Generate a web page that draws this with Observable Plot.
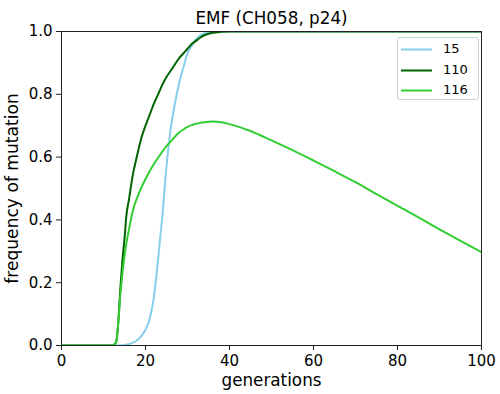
<!DOCTYPE html>
<html>
<head>
<meta charset="utf-8">
<script src="https://cdn.jsdelivr.net/npm/d3@7"></script>
<script src="https://cdn.jsdelivr.net/npm/@observablehq/plot@0.6"></script>
<style>
  html, body { margin: 0; padding: 0; background: #fff; }
  #wrap { position: relative; width: 500px; height: 394px; font-family: "DejaVu Sans", sans-serif; }
  #legend { position: absolute; left: 397px; top: 37px; width: 82px; height: 63px; box-sizing: border-box;
            border: 1px solid #d0d0d0; border-radius: 3px; background: rgba(255,255,255,0.85); }
  .item { position: absolute; left: 0; height: 16px; font-size: 13px; line-height: 16px; color: #000; }
  .item svg { position: absolute; left: 3px; top: 7px; }
  .item span { position: absolute; left: 45px; top: 0; }
</style>
</head>
<body>
<div id="wrap"><div id="legend"></div></div>
<script>
const title = "EMF (CH058, p24)";
const xLabel = "generations";
const yLabel = "frequency of mutation";
const xTicks = [0, 20, 40, 60, 80, 100];
const yTicks = [0, 0.2, 0.4, 0.6, 0.8, 1.0];

const seriesNames = ["15", "110", "116"];
const seriesColors = ["#87ceeb", "#006400", "#32cd32"];

const gens = [0, 10, 12, 12.5, 13, 13.5, 14, 14.5, 15, 15.5, 16, 17, 18, 19, 20, 21, 22, 23, 24, 25, 26, 27, 28, 29, 30, 31, 32, 33, 34, 36, 38, 40, 45, 50, 55, 60, 65, 70, 75, 80, 85, 90, 95, 100];

const freq15 = [0, 0, 0, 0, 0, 0, 0, 0.001, 0.002, 0.003, 0.004, 0.009, 0.017, 0.03, 0.05, 0.085, 0.155, 0.275, 0.41, 0.57, 0.69, 0.77, 0.835, 0.885, 0.93, 0.955, 0.975, 0.987, 0.994, 0.999, 1, 1, 1, 1, 1, 1, 1, 1, 1, 1, 1, 1, 1, 1];

const freq110 = [0, 0, 0, 0.003, 0.01, 0.07, 0.18, 0.27, 0.34, 0.42, 0.46, 0.545, 0.605, 0.66, 0.70, 0.735, 0.77, 0.80, 0.83, 0.855, 0.875, 0.895, 0.915, 0.93, 0.945, 0.96, 0.97, 0.98, 0.988, 0.996, 0.999, 1, 1, 1, 1, 1, 1, 1, 1, 1, 1, 1, 1, 1];

const freq116 = [0, 0, 0, 0.003, 0.01, 0.07, 0.16, 0.23, 0.285, 0.33, 0.365, 0.43, 0.47, 0.503, 0.53, 0.555, 0.578, 0.598, 0.617, 0.635, 0.65, 0.665, 0.678, 0.688, 0.696, 0.702, 0.706, 0.709, 0.711, 0.713, 0.711, 0.705, 0.683, 0.653, 0.622, 0.589, 0.555, 0.52, 0.482, 0.445, 0.408, 0.37, 0.333, 0.297];

const seriesValues = [freq15, freq110, freq116];
const data = seriesNames.flatMap((s, i) => gens.map((g, j) => ({g, f: seriesValues[i][j], s})));

const font = "DejaVu Sans";
const chart = Plot.plot({
  width: 500,
  height: 394,
  marginLeft: 61,
  marginRight: 19,
  marginTop: 31,
  marginBottom: 49,
  style: {fontFamily: font, background: "#fff", color: "#000"},
  x: {domain: [0, 100]},
  y: {domain: [0, 1]},
  color: {domain: seriesNames, range: seriesColors},
  marks: [
    Plot.line(data, {x: "g", y: "f", z: "s", stroke: "s", strokeWidth: 2, curve: "monotone-x", clip: true}),
    Plot.frame({stroke: "#222", strokeWidth: 1}),
    Plot.axisX({ticks: xTicks, tickFormat: d => String(d), tickSize: 5, tickPadding: 5, fontSize: 15, label: null, stroke: "#222"}),
    Plot.axisY({ticks: yTicks, tickFormat: d => d.toFixed(1), tickSize: 5, tickPadding: 4, fontSize: 15, label: null, stroke: "#222"}),
    Plot.text([title], {frameAnchor: "top", lineAnchor: "middle", textAnchor: "middle", dy: -13, fontSize: 16.8, fill: "#000"}),
    Plot.text([xLabel], {frameAnchor: "bottom", lineAnchor: "middle", textAnchor: "middle", dy: 35, fontSize: 16.8, fill: "#000"}),
    Plot.text([yLabel], {frameAnchor: "left", lineAnchor: "middle", textAnchor: "middle", dx: -49, rotate: -90, fontSize: 17.1, fill: "#000"})
  ]
});
document.getElementById("wrap").prepend(chart);
chart.style.position = "absolute";
chart.style.left = "0";
chart.style.top = "0";

const legend = document.getElementById("legend");
const rowTops = [3, 24, 44];
seriesNames.forEach((s, i) => {
  const item = document.createElement("div");
  item.className = "item";
  item.style.top = rowTops[i] + "px";
  item.innerHTML = `<svg width="32" height="3"><line x1="0" y1="1.5" x2="31" y2="1.5" stroke="${seriesColors[i]}" stroke-width="2"/></svg><span>${s}</span>`;
  legend.appendChild(item);
});
</script>
</body>
</html>
